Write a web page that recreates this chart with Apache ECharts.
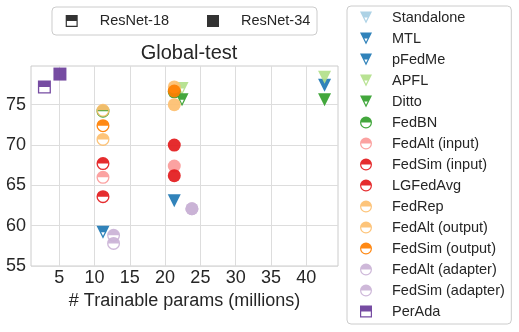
<!DOCTYPE html>
<html>
<head>
<meta charset="utf-8">
<script src="https://cdn.jsdelivr.net/npm/echarts@6/dist/echarts.min.js"></script>
<style>
  html, body { margin: 0; background: #fff; }
  #chart { width: 519px; height: 332px; }
</style>
</head>
<body>
<div id="chart"></div>
<script>
var methods = ["Standalone", "MTL", "pFedMe", "APFL", "Ditto", "FedBN",
  "FedAlt (input)", "FedSim (input)", "LGFedAvg", "FedRep", "FedAlt (output)",
  "FedSim (output)", "FedAlt (adapter)", "FedSim (adapter)", "PerAda"];
var colors = ["#a6cee3", "#1f78b4", "#1f78b4", "#b2df8a", "#33a02c", "#33a02c",
  "#fb9a99", "#e31a1c", "#e31a1c", "#fdbf6f", "#fdbf6f", "#ff7f00",
  "#cab2d6", "#cab2d6", "#6a3d9a"];
var shapes = ["tri", "tri", "tri", "tri", "tri", "circle", "circle", "circle",
  "circle", "circle", "circle", "circle", "circle", "circle", "square"];

// ResNet-18 (half filled markers) and ResNet-34 (filled markers)
var r18Params = [null, 11.2, null, 22.4, 22.4, 11.2, 11.2, 11.2, 11.2, 11.2, 11.2, 11.2, 12.7, 12.7, 2.9];
var r18Acc    = [null, 59.2, null, 77.0, 75.6, 74.2, 66.0, 67.7, 63.6, 74.3, 70.7, 72.4, 58.8, 57.8, 77.2];
var r34Params = [null, 21.3, 42.6, 42.6, 42.6, 21.3, 21.3, 21.3, 21.3, 21.3, 21.3, 21.3, 23.8, 23.8, 5.1];
var r34Acc    = [null, 63.1, 77.4, 78.4, 75.6, 76.6, 67.4, 66.2, 70.0, 77.2, 75.0, 76.7, 62.1, 62.1, 78.8];

var xTicks = [5, 10, 15, 20, 25, 30, 35, 40];
var yTicks = [55, 60, 65, 70, 75];

// top half filled, bottom half only outlined (hole has opposite winding)
var halfSym = {
  circle: "path://M0 10A10 10 0 0 1 20 10A10 10 0 0 1 0 10Z M2 10A8 8 0 0 0 18 10Z",
  tri: "path://M0 0L20 0L10 20Z M7.2 10L10 15.5L12.8 10Z",
  square: "path://M0 0L20 0L20 20L0 20Z M2 10L2 18L18 18L18 10Z"
};
var fullSym = {
  circle: "path://M0 10A10 10 0 0 1 20 10A10 10 0 0 1 0 10Z",
  tri: "path://M0 0L20 0L10 20Z",
  square: "path://M0 0L20 0L20 20L0 20Z"
};

var txt = "#262626";
var series = [];
methods.forEach(function (name, i) {
  var data = [];
  if (r18Params[i] != null) data.push({ value: [r18Params[i], r18Acc[i]], symbol: halfSym[shapes[i]] });
  if (r34Params[i] != null) data.push({ value: [r34Params[i], r34Acc[i]], symbol: fullSym[shapes[i]] });
  series.push({
    name: name,
    type: "scatter",
    symbol: halfSym[shapes[i]],
    symbolSize: 13,
    itemStyle: { color: colors[i], opacity: 0.92 },
    data: data
  });
});
series.push({ name: "ResNet-18", type: "scatter", symbol: halfSym.square, itemStyle: { color: "#000" }, data: [] });
series.push({ name: "ResNet-34", type: "scatter", symbol: fullSym.square, itemStyle: { color: "#000" }, data: [] });

var chart = echarts.init(document.getElementById("chart"), null, { renderer: "canvas" });
chart.setOption({
  animation: false,
  textStyle: { fontFamily: "Liberation Sans, Arial, sans-serif" },
  title: {
    text: "Global-test",
    left: 184,
    textAlign: "center",
    top: 38,
    textStyle: { fontSize: 20, fontWeight: "normal", color: txt }
  },
  grid: {
    left: 31, top: 66, width: 307, height: 200,
    show: true, borderColor: "#cccccc", borderWidth: 1, backgroundColor: "#fff"
  },
  legend: [{
    data: ["ResNet-18", "ResNet-34"],
    orient: "horizontal",
    left: 52, top: 7,
    padding: [6.5, 6.7, 6.5, 13.7],
    itemWidth: 12, itemHeight: 12, itemGap: 38,
    backgroundColor: "#fff", borderColor: "#cccccc", borderWidth: 1, borderRadius: 4,
    textStyle: { fontSize: 14.5, color: txt, padding: [0, 0, 0, 17], lineHeight: 12 }
  }, {
    data: methods,
    orient: "vertical",
    left: 347, top: 6,
    padding: [4, 6.5, 5, 13],
    itemWidth: 12, itemHeight: 12, itemGap: 6,
    backgroundColor: "#fff", borderColor: "#cccccc", borderWidth: 1, borderRadius: 4,
    textStyle: { fontSize: 14.5, color: txt, padding: [0, 0, 0, 15], lineHeight: 12 }
  }],
  xAxis: {
    type: "value",
    min: 1, max: 44.5, interval: 5,
    name: "# Trainable params (millions)",
    nameLocation: "middle",
    nameGap: 20,
    nameTextStyle: { fontSize: 18, color: txt },
    axisLine: { show: false },
    axisTick: { show: false, customValues: xTicks },
    axisLabel: { fontSize: 18, color: txt, margin: 3, customValues: xTicks },
    splitLine: { show: true, lineStyle: { color: "#dddddd", width: 1 } }
  },
  yAxis: {
    type: "value",
    min: 55, max: 79.8, interval: 5,
    axisLine: { show: false },
    axisTick: { show: false, customValues: yTicks },
    axisLabel: { fontSize: 18, color: txt, margin: 5, customValues: yTicks },
    splitLine: { show: true, lineStyle: { color: "#dddddd", width: 1 } }
  },
  series: series
});
</script>
</body>
</html>
